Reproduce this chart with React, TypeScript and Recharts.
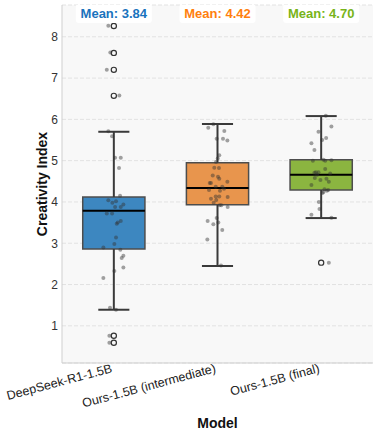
import React from 'react';
import {
  ComposedChart,
  Scatter,
  XAxis,
  YAxis,
  CartesianGrid,
  ReferenceArea,
  ReferenceLine,
} from 'recharts';

const models = ['DeepSeek-R1-1.5B', 'Ours-1.5B (intermediate)', 'Ours-1.5B (final)'];
const means = [3.84, 4.42, 4.7];
const q1 = [2.86, 3.93, 4.29];
const medians = [3.79, 4.34, 4.66];
const q3 = [4.12, 4.95, 5.02];
const whiskerLow = [1.39, 2.45, 3.61];
const whiskerHigh = [5.7, 5.89, 6.08];
const outliers = [
  [8.26, 7.61, 7.2, 6.57, 0.76, 0.59],
  [],
  [2.53],
];
const yTicks = [1, 2, 3, 4, 5, 6, 7, 8];

// [jitter offset (category units), value]
const strip0 = [
  [-0.053, 8.27], [-0.034, 7.62], [-0.068, 7.2], [0.053, 6.58], [-0.053, 5.71], [-0.017, 5.59],
  [0.012, 5.07], [0.067, 5.07], [0.05, 4.82], [0.06, 4.15], [-0.053, 4.04], [-0.014, 3.98],
  [0.021, 4.02], [0.012, 3.88], [0.067, 3.88], [0.092, 3.94], [-0.068, 3.72], [-0.017, 3.72],
  [0.028, 3.47], [0.038, 3.5], [0.067, 3.54], [0.021, 3.14], [0.005, 2.98], [-0.101, 2.9],
  [0.063, 2.84], [0.092, 2.7], [0.076, 2.64], [0.092, 2.41], [0.005, 2.33], [-0.101, 2.16],
  [-0.037, 1.44], [0.021, 1.39], [-0.043, 0.76], [-0.043, 0.59],
];
const strip1 = [
  [-0.04, 5.88], [-0.089, 5.8], [0.066, 5.72], [-0.008, 5.53], [0.053, 5.53], [0.095, 5.49],
  [0.017, 5.13], [0.002, 5.05], [-0.014, 4.97], [-0.031, 4.83], [0.014, 4.82], [0.005, 4.61],
  [0.017, 4.56], [-0.046, 4.64], [-0.075, 4.46], [-0.063, 4.46], [0.095, 4.49], [0.046, 4.37],
  [0.063, 4.32], [-0.017, 4.37], [0.024, 4.27], [-0.082, 4.29], [-0.017, 4.13], [0.017, 4.13],
  [-0.063, 4.08], [-0.012, 4.05], [0.098, 4.12], [-0.037, 3.98], [0.021, 3.92], [0.037, 3.92],
  [0.098, 3.88], [-0.008, 3.61], [-0.095, 3.54], [-0.04, 3.46], [0.008, 3.5], [0.046, 3.32],
  [-0.098, 3.09], [0.034, 2.46],
];
const strip2 = [
  [0.045, 6.09], [0.099, 5.83], [-0.026, 5.7], [0.048, 5.55], [0.01, 5.5], [-0.094, 5.42],
  [-0.065, 5.26], [-0.08, 5.0], [0.022, 5.02], [0.039, 5.0], [0.099, 5.01], [0.039, 4.8],
  [-0.065, 4.71], [-0.051, 4.72], [-0.026, 4.72], [0.087, 4.69], [-0.039, 4.66], [-0.061, 4.58],
  [-0.007, 4.53], [0.051, 4.56], [0.074, 4.49], [-0.094, 4.41], [0.032, 4.31], [0.068, 4.29],
  [0.055, 4.27], [0.022, 4.24], [0.013, 4.22], [-0.022, 4.0], [-0.016, 3.83], [-0.094, 3.69],
  [0.099, 3.62], [0.074, 2.53],
];
const strips = [strip0, strip1, strip2];

const boxColors = ['#3d87c0', '#e8954d', '#8bb540'];
const textColors = ['#1a73bd', '#ff7f0e', '#78b41a'];
const LABEL_Y = 8.555;

const FONT = '"Liberation Sans", Arial, Helvetica, sans-serif';

const stripData = strips.flatMap((s, i) => s.map(([j, v]) => ({ x: i + j, y: v })));
const outlierData = outliers.flatMap((o, i) => o.map((v) => ({ x: i, y: v })));
const meanData = means.map((m, i) => ({ x: i, y: LABEL_Y, mean: m, idx: i }));

const XTick = (props: any) => {
  const { x, y, payload } = props;
  const ax = x - 1;
  const ay = y + 1;
  return (
    <text
      x={ax}
      y={ay}
      transform={`rotate(-15, ${ax}, ${ay})`}
      textAnchor="end"
      fontSize={12.5}
      fontFamily={FONT}
      fill="#222"
    >
      {models[payload.value]}
    </text>
  );
};

const YLabel = (props: any) => {
  const vb = props.viewBox || { x: 0, y: 5, width: 62, height: 358 };
  const cx = 41.5;
  const cy = vb.y + vb.height / 2;
  return (
    <text
      x={cx}
      y={cy}
      transform={`rotate(-90, ${cx}, ${cy})`}
      textAnchor="middle"
      dominantBaseline="central"
      fontSize={14}
      fontWeight="bold"
      fontFamily={FONT}
      fill="#111"
    >
      Creativity Index
    </text>
  );
};

const StripDot = (p: any) => <circle cx={p.cx} cy={p.cy} r={2} fill="#333" fillOpacity={0.45} />;
const OutlierDot = (p: any) => (
  <circle cx={p.cx} cy={p.cy} r={2.6} fill="none" stroke="#333" strokeWidth={1.2} />
);
const MeanLabel = (p: any) => {
  const i = p.payload.idx;
  return (
    <g>
      <rect x={p.cx - 38} y={p.cy - 10} width={76} height={19} rx={3} fill="#ffffff" />
      <text
        x={p.cx}
        y={p.cy}
        textAnchor="middle"
        dominantBaseline="central"
        fontSize={13}
        fontWeight="bold"
        fontFamily={FONT}
        fill={textColors[i]}
      >
        {`Mean: ${p.payload.mean.toFixed(2)}`}
      </text>
    </g>
  );
};

export default function App() {
  return (
    <div style={{ position: 'absolute', left: 0, top: 0, background: '#fff' }}>
      <ComposedChart width={379} height={436} margin={{ top: 5, right: 6, left: 0, bottom: 0 }}>
        <CartesianGrid
          vertical={false}
          fill="#f8f8f8"
          stroke="#e2e2e2"
          strokeDasharray="4 2"
        />
        <XAxis
          type="number"
          dataKey="x"
          domain={[-0.5, 2.5]}
          ticks={[0, 1, 2]}
          allowDataOverflow
          tickLine={false}
          axisLine={{ stroke: '#cfcfcf' }}
          tick={<XTick />}
          height={73}
          label={{
            value: 'Model',
            position: 'insideBottom',
            offset: 8,
            fontSize: 14,
            fontWeight: 'bold',
            fontFamily: FONT,
            fill: '#111',
          }}
        />
        <YAxis
          type="number"
          dataKey="y"
          domain={[0.1, 8.77]}
          ticks={yTicks}
          allowDataOverflow
          tickLine={false}
          tickSize={4}
          tickMargin={0}
          axisLine={{ stroke: '#cfcfcf' }}
          width={62}
          tick={{ fontSize: 12, fill: '#333', fontFamily: FONT }}
          label={<YLabel />}
        />
        {models.map((_, i) => (
          <ReferenceLine
            key={`wl${i}`}
            segment={[{ x: i, y: whiskerLow[i] }, { x: i, y: q1[i] }]}
            stroke="#3a3a3a"
            strokeWidth={2}
          />
        ))}
        {models.map((_, i) => (
          <ReferenceLine
            key={`wh${i}`}
            segment={[{ x: i, y: q3[i] }, { x: i, y: whiskerHigh[i] }]}
            stroke="#3a3a3a"
            strokeWidth={2}
          />
        ))}
        {models.map((_, i) => (
          <ReferenceLine
            key={`cl${i}`}
            segment={[{ x: i - 0.15, y: whiskerLow[i] }, { x: i + 0.15, y: whiskerLow[i] }]}
            stroke="#3a3a3a"
            strokeWidth={2}
          />
        ))}
        {models.map((_, i) => (
          <ReferenceLine
            key={`ch${i}`}
            segment={[{ x: i - 0.15, y: whiskerHigh[i] }, { x: i + 0.15, y: whiskerHigh[i] }]}
            stroke="#3a3a3a"
            strokeWidth={2}
          />
        ))}
        {models.map((_, i) => (
          <ReferenceArea
            key={`box${i}`}
            x1={i - 0.3}
            x2={i + 0.3}
            y1={q1[i]}
            y2={q3[i]}
            fill={boxColors[i]}
            fillOpacity={1}
            stroke="#4d4d4d"
            strokeWidth={1.5}
          />
        ))}
        {models.map((_, i) => (
          <ReferenceLine
            key={`med${i}`}
            segment={[{ x: i - 0.3, y: medians[i] }, { x: i + 0.3, y: medians[i] }]}
            stroke="#000"
            strokeWidth={2}
          />
        ))}
        <Scatter data={outlierData} shape={<OutlierDot />} isAnimationActive={false} />
        <Scatter data={stripData} shape={<StripDot />} isAnimationActive={false} />
        <Scatter data={meanData} shape={<MeanLabel />} isAnimationActive={false} />
      </ComposedChart>
    </div>
  );
}
